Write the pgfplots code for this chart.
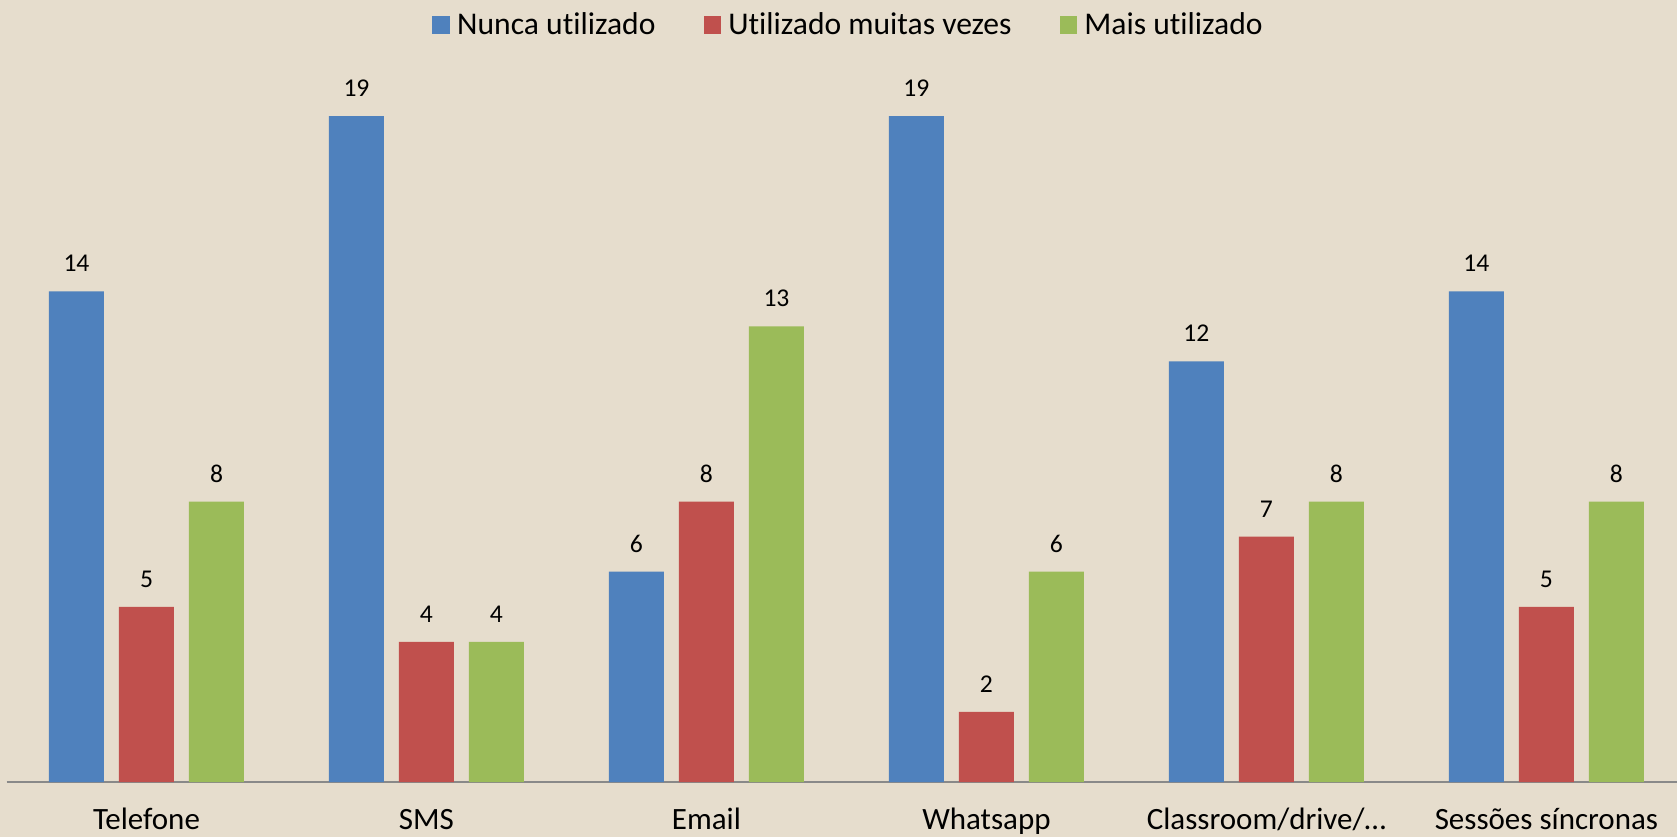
\documentclass[border=0pt]{standalone}
\usepackage{fontspec}
\setmainfont[Ligatures=NoCommon]{Carlito}
\usepackage{pgfplots}
\pgfplotsset{compat=1.18}
\definecolor{cblue}{HTML}{4F81BD}
\definecolor{cred}{HTML}{C0504D}
\definecolor{cgreen}{HTML}{9BBB59}
\definecolor{bgc}{HTML}{E6DDCD}
\definecolor{axgray}{HTML}{898989}
\begin{document}
\begin{tikzpicture}
\fill[bgc] (-3.25pt,-27.5pt) rectangle (835.25pt,391pt);
\path[use as bounding box] (-3.25pt,-27.5pt) rectangle (835.25pt,391pt);
\begin{axis}[
  scale only axis,
  width=835.2pt, height=350.5pt,
  ybar=7.5pt, bar width=27.5pt,
  xmin=-0.5, xmax=5.466, ymin=0, ymax=20,
  enlarge x limits=false, enlarge y limits=false,
  clip=false,
  axis x line=bottom, axis y line=none,
  x axis line style={axgray, line width=1pt, -},
  xtick={0,1,2,3,4,5},
  xticklabels={Telefone, SMS, Email, Whatsapp, Classroom/drive/…, Sessões síncronas},
  major tick length=0pt,
  xticklabel style={anchor=base, yshift=-23.6pt, inner ysep=0pt, font=\fontsize{15.5pt}{18pt}\selectfont},
  ytick=\empty,
  /pgf/number format/assume math mode=true,
  nodes near coords,
  nodes near coords style={anchor=base, yshift=9.8pt, font=\fontsize{12.8pt}{15pt}\selectfont, black},
  legend columns=3,
  legend style={at={(0.5035,1.0796)}, anchor=center, draw=none, fill=none,
    font=\fontsize{15.8pt}{18pt}\selectfont, inner sep=0pt,
    nodes={inner xsep=0pt, inner ysep=1pt},
    /tikz/every odd column/.append style={column sep=3.6pt},
    /tikz/every even column/.append style={column sep=24pt}},
  legend image code/.code={\fill[#1, draw=none] (0pt,-4.4pt) rectangle (8.8pt,4.4pt);},
]
\addplot[fill=cblue, draw=none] coordinates {(0,14) (1,19) (2,6) (3,19) (4,12) (5,14)};
\addplot[fill=cred, draw=none] coordinates {(0,5) (1,4) (2,8) (3,2) (4,7) (5,5)};
\addplot[fill=cgreen, draw=none] coordinates {(0,8) (1,4) (2,13) (3,6) (4,8) (5,8)};
\legend{Nunca utilizado, Utilizado muitas vezes, Mais utilizado}
\end{axis}
\end{tikzpicture}
\end{document}
